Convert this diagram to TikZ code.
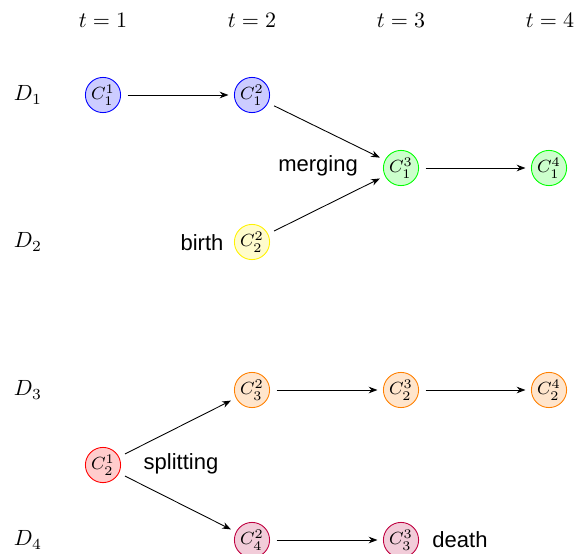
\documentclass[tikz,border=0pt]{standalone}
\usepackage{fontspec}
\setsansfont{Liberation Sans}
\usetikzlibrary{arrows.meta}
\begin{document}
\begin{tikzpicture}[x=0.4545pt,y=-0.4545pt,
  cl/.style={circle,draw=#1,fill=#1!20,minimum size=16pt,inner sep=0pt,font=\footnotesize},
  lab/.style={font=\sffamily},
  arr/.style={-{Stealth[length=4pt,width=3pt]},black,line width=0.4pt,shorten <=3pt,shorten >=2.5pt}]
\useasboundingbox (0,0) rectangle (579,554);
% time labels
\node (t1) at (103,20) {$t=1$};
\node (t2) at (252,20) {$t=2$};
\node (t3) at (401,20) {$t=3$};
\node (t4) at (550,20) {$t=4$};
% domain labels
\node (d1) at (28,95) {$D_1$};
\node (d2) at (28,242) {$D_2$};
\node (d3) at (28,390) {$D_3$};
\node (d4) at (28,540) {$D_4$};
% nodes
\node[cl=blue] (c11) at (103,95) {$C_1^1$};
\node[cl=blue] (c12) at (252,95) {$C_1^2$};
\node[cl=green] (c13) at (401,168) {$C_1^3$};
\node[cl=green] (c14) at (549,168) {$C_1^4$};
\node[cl=yellow] (c22) at (252,242) {$C_2^2$};
\node[cl=red] (c21) at (103,465) {$C_2^1$};
\node[cl=orange] (c32) at (252,390) {$C_3^2$};
\node[cl=orange] (c23) at (401,390) {$C_2^3$};
\node[cl=orange] (c24) at (549,390) {$C_2^4$};
\node[cl=purple] (c42) at (252,540) {$C_4^2$};
\node[cl=purple] (c33) at (401,540) {$C_3^3$};
% labels
\node[lab] (lm) at (318,166) {merging};
\node[lab] (lb) at (202,243) {birth};
\node[lab] (ls) at (181,464) {splitting};
\node[lab] (ld) at (460,540) {death};
% arrows
\draw[arr] (c11) -- (c12);
\draw[arr] (c12) -- (c13);
\draw[arr] (c22) -- (c13);
\draw[arr] (c13) -- (c14);
\draw[arr] (c21) -- (c32);
\draw[arr] (c21) -- (c42);
\draw[arr] (c32) -- (c23);
\draw[arr] (c23) -- (c24);
\draw[arr] (c42) -- (c33);
\end{tikzpicture}
\end{document}
